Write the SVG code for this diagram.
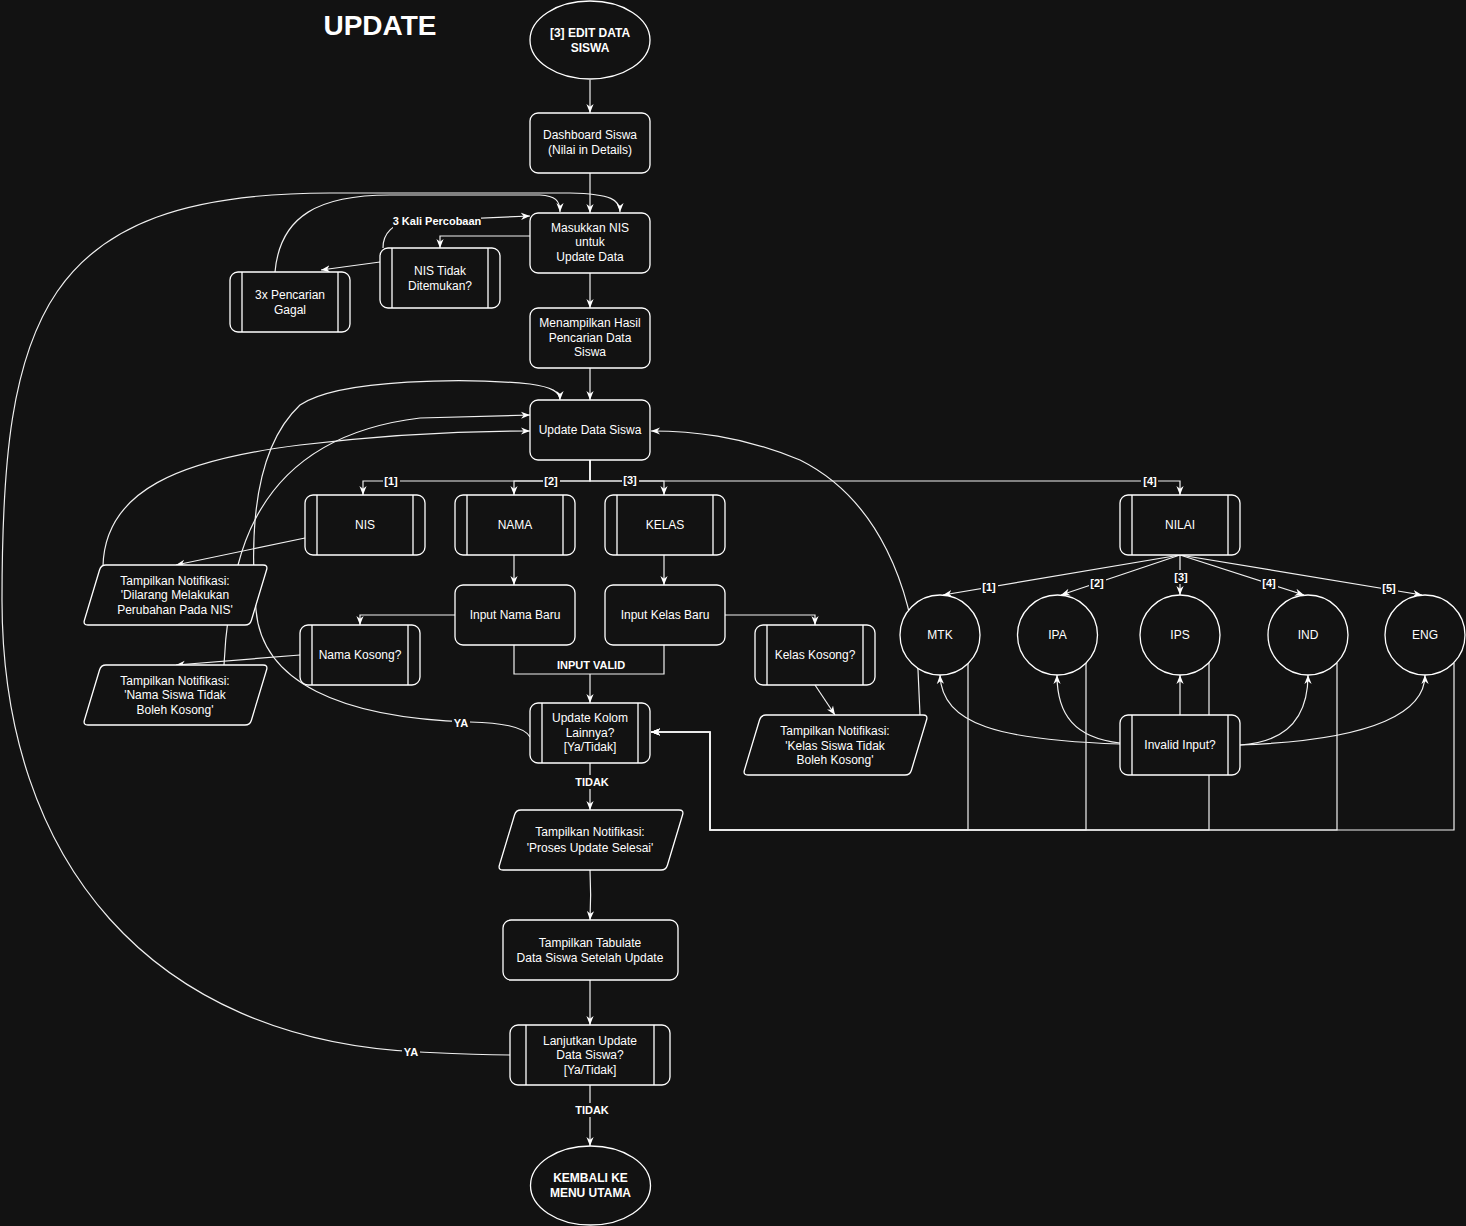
<svg xmlns="http://www.w3.org/2000/svg" width="1466" height="1226" viewBox="0 0 1466 1226">
<defs>
<style>
.n{fill:#121212;stroke:#ffffff;stroke-width:1.3}
.v{fill:none;stroke:#ffffff;stroke-width:1.3}
.t{font-family:"Liberation Sans",Arial,Helvetica,sans-serif;font-size:12px;fill:#ffffff;text-anchor:middle}
.b{font-weight:bold}
.e{fill:none;stroke:#f0f0f0;stroke-width:1.2;marker-end:url(#a)}
.p{fill:none;stroke:#f0f0f0;stroke-width:1.2}
.l{font-family:"Liberation Sans",Arial,Helvetica,sans-serif;font-size:11px;font-weight:bold;fill:#ffffff;text-anchor:middle}
.lb{fill:#121212}
</style>
<marker id="a" viewBox="0 0 10 10" refX="10" refY="5" markerWidth="9" markerHeight="9" markerUnits="userSpaceOnUse" orient="auto">
<path d="M0,1 L10,5 L0,9 L3,5 z" fill="#ffffff"/>
</marker>
</defs>
<rect x="0" y="0" width="1466" height="1226" fill="#121212"/>
<text x="380" y="35" font-family="Liberation Sans, Arial, sans-serif" font-size="28" font-weight="bold" fill="#ffffff" text-anchor="middle">UPDATE</text>

<g id="connectors">
<path class="e" d="M590,80 L590,113"/>
<path class="e" d="M590,173 L590,213"/>
<path class="e" d="M530,236 L440,236 L440,248"/>
<path class="e" d="M383,248 C383,234 392,222 415,221 L530,216"/>
<path class="e" d="M380,262 L321,270"/>
<path class="e" d="M275,272 C280,215 320,195 390,195 L540,195 C555,196 560,200 560,212"/>
<path class="e" d="M510,1055 C470,1055 440,1053 420,1052 C150,1040 2,860 2,600 C2,320 40,193 330,193 L570,193 C612,194 620,200 620,212"/>
<path class="e" d="M590,273 L590,308"/>
<path class="e" d="M590,368 L590,400"/>
<path class="e" d="M590,460 L590,481 L363,481 L363,495"/>
<path class="e" d="M590,460 L590,481 L514,481 L514,495"/>
<path class="e" d="M590,460 L590,481 L664,481 L664,495"/>
<path class="e" d="M590,460 L590,481 L1180,481 L1180,495"/>
<path class="e" d="M305,538 L176,565"/>
<path class="e" d="M103,566 C105,490 180,460 300,445 C400,433 480,431 530,431"/>
<path class="e" d="M224,665 C226,620 232,590 238,565 C260,480 320,430 420,418 L530,415"/>
<path class="e" d="M530,737 C524,726 500,723 470,722 C340,718 262,682 256,610 C250,540 252,450 300,405 C340,378 470,378 530,384 C552,387 560,392 560,400"/>
<path class="e" d="M920,715 L918,670 C912,590 880,500 800,460 C740,435 690,431 651,431"/>
<path class="e" d="M514,555 L514,585"/>
<path class="e" d="M664,555 L664,585"/>
<path class="e" d="M455,615 L360,615 L360,625"/>
<path class="e" d="M300,655 L176,665"/>
<path class="e" d="M725,615 L815,615 L815,625"/>
<path class="e" d="M815,685 L835,715"/>
<path class="p" d="M514,645 L514,674 L664,674 L664,645"/>
<path class="e" d="M590,674 L590,703"/>
<path class="e" d="M1180,555 L943,595"/>
<path class="e" d="M1180,555 L1061,595"/>
<path class="e" d="M1180,555 L1180,595"/>
<path class="e" d="M1180,555 L1304,595"/>
<path class="e" d="M1180,555 L1422,595"/>
<path class="e" d="M1120,744 C1000,740 942,725 940,675"/>
<path class="e" d="M1120,743 C1075,738 1057,715 1057,675"/>
<path class="e" d="M1180,715 L1180,675"/>
<path class="e" d="M1240,745 C1290,742 1308,715 1308,675"/>
<path class="e" d="M1240,745 C1380,740 1425,710 1425,675"/>
<path class="e" d="M968,663 L968,830 L710,830 L710,732 L651,732"/>
<path class="e" d="M1086,663 L1086,830 L710,830 L710,732 L651,732"/>
<path class="e" d="M1209,662 L1209,830 L710,830 L710,732 L651,732"/>
<path class="e" d="M1337,663 L1337,830 L710,830 L710,732 L651,732"/>
<path class="e" d="M1454,663 L1454,830 L710,830 L710,732 L651,732"/>
<path class="e" d="M590,762 L590,810"/>
<path class="e" d="M590,870 C591,890 591,900 590,920"/>
<path class="e" d="M590,980 L590,1025"/>
<path class="e" d="M590,1085 L590,1146"/>
<g id="edge-labels">
<rect class="lb" x="393" y="214" width="88" height="14"/><text class="l" x="437" y="225" font-size="10.5">3 Kali Percobaan</text>
<rect class="lb" x="383" y="474" width="17" height="14"/><text class="l" x="391" y="485">[1]</text>
<rect class="lb" x="543" y="474" width="17" height="14"/><text class="l" x="551" y="485">[2]</text>
<rect class="lb" x="622" y="473" width="17" height="14"/><text class="l" x="630" y="484">[3]</text>
<rect class="lb" x="1141" y="474" width="17" height="14"/><text class="l" x="1150" y="485">[4]</text>
<rect class="lb" x="981" y="580" width="17" height="14"/><text class="l" x="989" y="591">[1]</text>
<rect class="lb" x="1089" y="576" width="17" height="14"/><text class="l" x="1097" y="587">[2]</text>
<rect class="lb" x="1173" y="570" width="17" height="14"/><text class="l" x="1181" y="581">[3]</text>
<rect class="lb" x="1261" y="576" width="17" height="14"/><text class="l" x="1269" y="587">[4]</text>
<rect class="lb" x="1381" y="581" width="17" height="14"/><text class="l" x="1389" y="592">[5]</text>
<text class="l" x="591" y="669">INPUT VALID</text>
<rect class="lb" x="452" y="716" width="18" height="14"/><text class="l" x="461" y="727">YA</text>
<rect class="lb" x="402" y="1045" width="18" height="14"/><text class="l" x="411" y="1056">YA</text>
<rect class="lb" x="574" y="775" width="37" height="14"/><text class="l" x="592" y="786">TIDAK</text>
<rect class="lb" x="574" y="1103" width="37" height="14"/><text class="l" x="592" y="1114">TIDAK</text>
</g>
</g>

<g id="start"><ellipse class="n" cx="590" cy="40" rx="60" ry="39"/><text class="t b" x="590" y="37">[3] EDIT DATA</text><text class="t b" x="590" y="52">SISWA</text></g>
<g id="dashboard"><rect class="n" x="530" y="113" width="120" height="60" rx="8"/><text class="t" x="590" y="139">Dashboard Siswa</text><text class="t" x="590" y="154">(Nilai in Details)</text></g>
<g id="masukkan"><rect class="n" x="530" y="213" width="120" height="60" rx="8"/><text class="t" x="590" y="232">Masukkan NIS</text><text class="t" x="590" y="246">untuk</text><text class="t" x="590" y="261">Update Data</text></g>
<g id="nis-tidak"><rect class="n" x="380" y="248" width="120" height="60" rx="8"/><path class="v" d="M392,248 V308 M488,248 V308"/><text class="t" x="440" y="275">NIS Tidak</text><text class="t" x="440" y="290">Ditemukan?</text></g>
<g id="gagal"><rect class="n" x="230" y="272" width="120" height="60" rx="8"/><path class="v" d="M242,272 V332 M338,272 V332"/><text class="t" x="290" y="299">3x Pencarian</text><text class="t" x="290" y="314">Gagal</text></g>
<g id="menampilkan"><rect class="n" x="530" y="308" width="120" height="60" rx="8"/><text class="t" x="590" y="327">Menampilkan Hasil</text><text class="t" x="590" y="342">Pencarian Data</text><text class="t" x="590" y="356">Siswa</text></g>
<g id="update-data"><rect class="n" x="530" y="400" width="120" height="60" rx="8"/><text class="t" x="590" y="434">Update Data Siswa</text></g>
<g id="nis"><rect class="n" x="305" y="495" width="120" height="60" rx="8"/><path class="v" d="M317,495 V555 M413,495 V555"/><text class="t" x="365" y="529">NIS</text></g>
<g id="nama"><rect class="n" x="455" y="495" width="120" height="60" rx="8"/><path class="v" d="M467,495 V555 M563,495 V555"/><text class="t" x="515" y="529">NAMA</text></g>
<g id="kelas"><rect class="n" x="605" y="495" width="120" height="60" rx="8"/><path class="v" d="M617,495 V555 M713,495 V555"/><text class="t" x="665" y="529">KELAS</text></g>
<g id="nilai"><rect class="n" x="1120" y="495" width="120" height="60" rx="8"/><path class="v" d="M1132,495 V555 M1228,495 V555"/><text class="t" x="1180" y="529">NILAI</text></g>
<g id="notif-nis"><path class="n" d="M106,565 L263,565 Q268,565 266.6,569.8 L251.4,620.2 Q250,625 245,625 L88,625 Q83,625 84.4,620.2 L99.6,569.8 Q101,565 106,565 Z"/><text class="t" x="175" y="585">Tampilkan Notifikasi:</text><text class="t" x="175" y="599">'Dilarang Melakukan</text><text class="t" x="175" y="613.5">Perubahan Pada NIS'</text></g>
<g id="input-nama"><rect class="n" x="455" y="585" width="120" height="60" rx="8"/><text class="t" x="515" y="619">Input Nama Baru</text></g>
<g id="input-kelas"><rect class="n" x="605" y="585" width="120" height="60" rx="8"/><text class="t" x="665" y="619">Input Kelas Baru</text></g>
<g id="nama-kosong"><rect class="n" x="300" y="625" width="120" height="60" rx="8"/><path class="v" d="M312,625 V685 M408,625 V685"/><text class="t" x="360" y="659">Nama Kosong?</text></g>
<g id="kelas-kosong"><rect class="n" x="755" y="625" width="120" height="60" rx="8"/><path class="v" d="M767,625 V685 M863,625 V685"/><text class="t" x="815" y="659">Kelas Kosong?</text></g>
<g id="notif-nama"><path class="n" d="M106,665 L263,665 Q268,665 266.6,669.8 L251.4,720.2 Q250,725 245,725 L88,725 Q83,725 84.4,720.2 L99.6,669.8 Q101,665 106,665 Z"/><text class="t" x="175" y="685">Tampilkan Notifikasi:</text><text class="t" x="175" y="699">'Nama Siswa Tidak</text><text class="t" x="175" y="713.5">Boleh Kosong'</text></g>
<g id="notif-kelas"><path class="n" d="M766,715 L923,715 Q928,715 926.6,719.8 L911.4,770.2 Q910,775 905,775 L748,775 Q743,775 744.4,770.2 L759.6,719.8 Q761,715 766,715 Z"/><text class="t" x="835" y="735">Tampilkan Notifikasi:</text><text class="t" x="835" y="750">'Kelas Siswa Tidak</text><text class="t" x="835" y="764">Boleh Kosong'</text></g>
<g id="mtk"><circle class="n" cx="940" cy="635" r="40"/><text class="t" x="940" y="639">MTK</text></g>
<g id="ipa"><circle class="n" cx="1057.5" cy="635" r="40"/><text class="t" x="1057.5" y="639">IPA</text></g>
<g id="ips"><circle class="n" cx="1180" cy="635" r="40"/><text class="t" x="1180" y="639">IPS</text></g>
<g id="ind"><circle class="n" cx="1308" cy="635" r="40"/><text class="t" x="1308" y="639">IND</text></g>
<g id="eng"><circle class="n" cx="1425" cy="635" r="40"/><text class="t" x="1425" y="639">ENG</text></g>
<g id="invalid"><rect class="n" x="1120" y="715" width="120" height="60" rx="8"/><path class="v" d="M1132,715 V775 M1228,715 V775"/><text class="t" x="1180" y="749">Invalid Input?</text></g>
<g id="update-kolom"><rect class="n" x="530" y="703" width="120" height="60" rx="8"/><path class="v" d="M542,703 V763 M638,703 V763"/><text class="t" x="590" y="721.5">Update Kolom</text><text class="t" x="590" y="736.5">Lainnya?</text><text class="t" x="590" y="751">[Ya/Tidak]</text></g>
<g id="notif-proses"><path class="n" d="M521,810 L679,810 Q684,810 682.6,814.8 L667.4,865.2 Q666,870 661,870 L503,870 Q498,870 499.4,865.2 L514.6,814.8 Q516,810 521,810 Z"/><text class="t" x="590" y="836">Tampilkan Notifikasi:</text><text class="t" x="590" y="852">'Proses Update Selesai'</text></g>
<g id="tabulate"><rect class="n" x="503" y="920" width="175" height="60" rx="8"/><text class="t" x="590" y="947">Tampilkan Tabulate</text><text class="t" x="590" y="962">Data Siswa Setelah Update</text></g>
<g id="lanjutkan"><rect class="n" x="510" y="1025" width="160" height="60" rx="8"/><path class="v" d="M526,1025 V1085 M654,1025 V1085"/><text class="t" x="590" y="1045">Lanjutkan Update</text><text class="t" x="590" y="1059">Data Siswa?</text><text class="t" x="590" y="1074">[Ya/Tidak]</text></g>
<g id="kembali"><ellipse class="n" cx="590.5" cy="1185.5" rx="60" ry="39.5"/><text class="t b" x="590.5" y="1182">KEMBALI KE</text><text class="t b" x="590.5" y="1197">MENU UTAMA</text></g>
</svg>
